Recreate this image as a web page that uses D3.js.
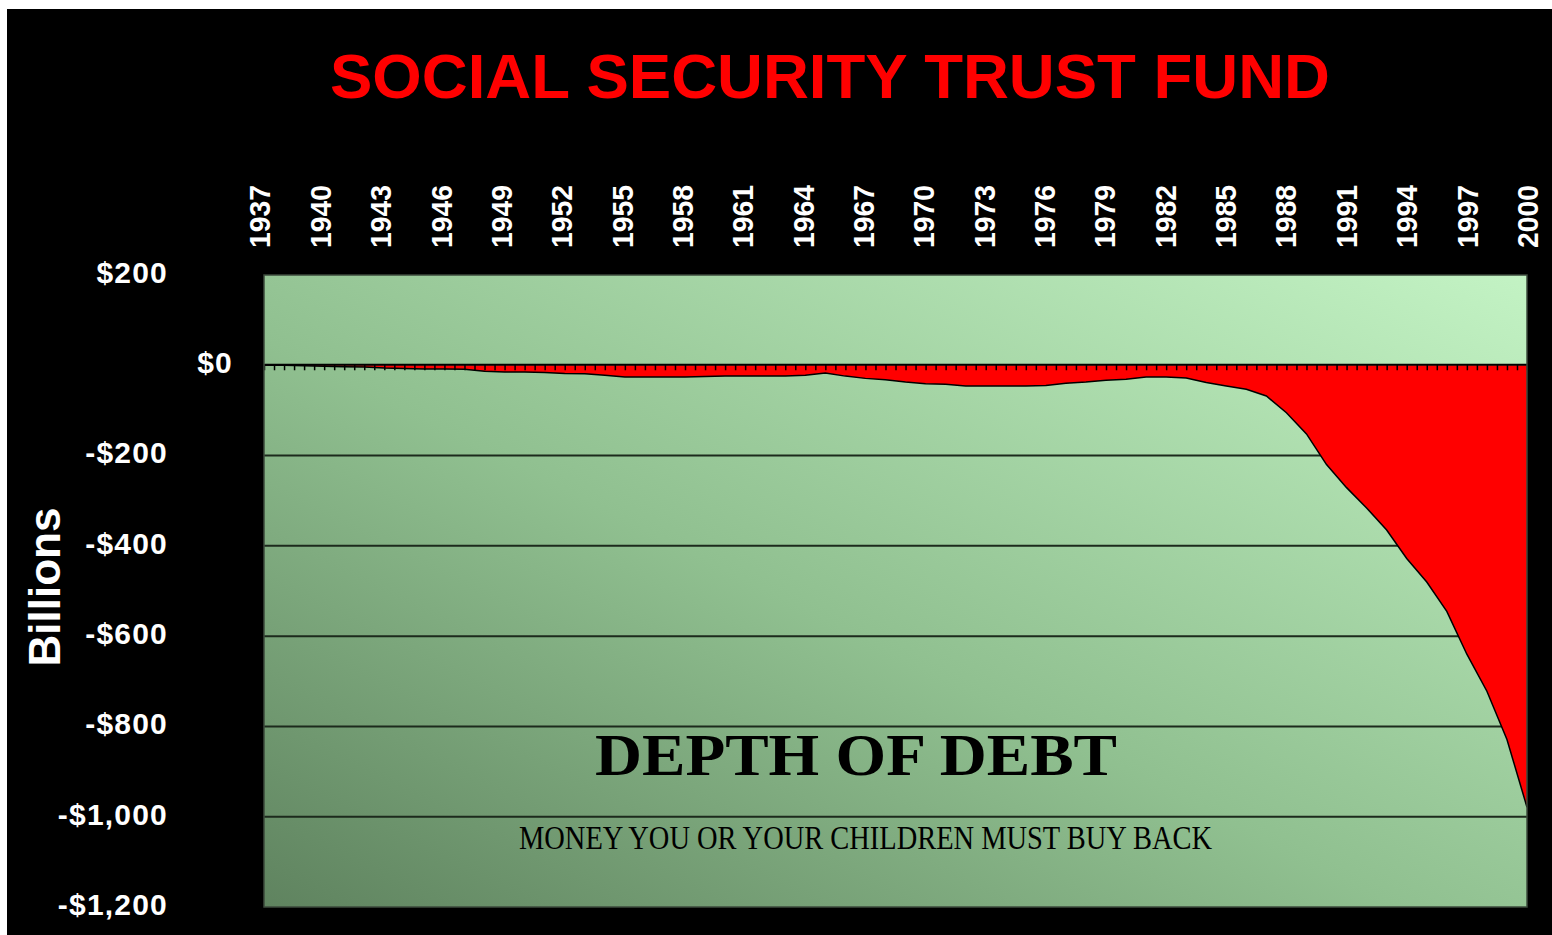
<!DOCTYPE html>
<html>
<head>
<meta charset="utf-8">
<script src="https://cdn.jsdelivr.net/npm/d3@7/dist/d3.min.js"></script>
<style>
    html, body { margin: 0; padding: 0; background: #fff; }
    svg { display: block; }
</style>
</head>
<body>
<svg id="chart" width="1552" height="935"></svg>
<script>
// fund balance, billions (negative = owed)
var years = [1937, 1938, 1939, 1940, 1941, 1942, 1943, 1944, 1945, 1946,
             1947, 1948, 1949, 1950, 1951, 1952, 1953, 1954, 1955, 1956,
             1957, 1958, 1959, 1960, 1961, 1962, 1963, 1964, 1965, 1966,
             1967, 1968, 1969, 1970, 1971, 1972, 1973, 1974, 1975, 1976,
             1977, 1978, 1979, 1980, 1981, 1982, 1983, 1984, 1985, 1986,
             1987, 1988, 1989, 1990, 1991, 1992, 1993, 1994, 1995, 1996,
             1997, 1998, 1999, 2000];
var balance = [0, 0, -1, -2, -3, -4, -6, -7, -8, -8,
               -9, -13, -15, -15, -16, -18, -19, -22, -26, -26,
               -26, -26, -25, -24, -24, -24, -24, -22, -17, -24,
               -29, -32, -37, -41, -42, -46, -46, -46, -46, -45,
               -40, -37, -33, -31, -26, -26, -28, -38, -46, -53,
               -68, -105, -152, -220, -271, -316, -365, -428, -480, -545,
               -640, -722, -829, -979];
var yearLabels = [1937, 1940, 1943, 1946, 1949, 1952, 1955, 1958, 1961, 1964,
                  1967, 1970, 1973, 1976, 1979, 1982, 1985, 1988, 1991, 1994,
                  1997, 2000];
var valueTicks = [200, 0, -200, -400, -600, -800, -1000, -1200];
var gridValues = [-200, -400, -600, -800, -1000];

var data = years.map(function(d, i) { return {year: d, value: balance[i]}; });

var plot = {left: 264, right: 1527, top: 275, bottom: 907};

var svg = d3.select("#chart");

var x = d3.scaleLinear().domain([1937, 2000]).range([plot.left, plot.right]);
var y = d3.scaleLinear().domain([200, -1200]).range([plot.top, plot.bottom]);

var money = function(v) {
    var s = "$" + d3.format(",")(Math.abs(v));
    return v < 0 ? "-" + s : s;
};

// black card
svg.append("rect")
    .attr("x", 7).attr("y", 9)
    .attr("width", 1545).attr("height", 926)
    .attr("fill", "#000");

// green plot background
var defs = svg.append("defs");
var grad = defs.append("linearGradient")
    .attr("id", "bg")
    .attr("x1", 0).attr("y1", 1).attr("x2", 1).attr("y2", 0);
grad.append("stop").attr("offset", "0%").attr("stop-color", "#5f835f");
grad.append("stop").attr("offset", "45%").attr("stop-color", "#90c090");
grad.append("stop").attr("offset", "100%").attr("stop-color", "#c3f3c4");

svg.append("rect")
    .attr("x", plot.left).attr("y", plot.top)
    .attr("width", plot.right - plot.left).attr("height", plot.bottom - plot.top)
    .attr("fill", "url(#bg)");

// gridlines
svg.append("g")
    .attr("class", "grid")
    .selectAll("line").data(gridValues).enter()
    .append("line")
    .attr("x1", plot.left).attr("x2", plot.right)
    .attr("y1", function(d) { return y(d); })
    .attr("y2", function(d) { return y(d); })
    .attr("stroke", "#1c2a1c")
    .attr("stroke-width", 2);

// debt area
var area = d3.area()
    .x(function(d) { return x(d.year); })
    .y0(y(0))
    .y1(function(d) { return y(d.value); });

var edge = d3.line()
    .x(function(d) { return x(d.year); })
    .y(function(d) { return y(d.value); });

svg.append("path")
    .datum(data)
    .attr("d", area)
    .attr("fill", "#ff0000");

svg.append("path")
    .datum(data)
    .attr("d", edge)
    .attr("fill", "none")
    .attr("stroke", "#000")
    .attr("stroke-width", 1.5);

// zero axis with half-year ticks
var zeroAxis = d3.axisBottom(x)
    .tickValues(d3.range(1937, 2000.01, 0.5))
    .tickFormat("")
    .tickSizeInner(6)
    .tickSizeOuter(0);

var gz = svg.append("g")
    .attr("transform", "translate(0," + (y(0) - 1) + ")")
    .call(zeroAxis);
gz.select(".domain").attr("stroke", "#000").attr("stroke-width", 2);
gz.selectAll(".tick line").attr("stroke", "#000").attr("stroke-width", 1.5);

// plot border
svg.append("rect")
    .attr("x", plot.left).attr("y", plot.top)
    .attr("width", plot.right - plot.left).attr("height", plot.bottom - plot.top)
    .attr("fill", "none")
    .attr("stroke", "#3c4a3c")
    .attr("stroke-width", 1.5);

// year labels on top, rotated
svg.append("g")
    .attr("class", "x-labels")
    .selectAll("text").data(yearLabels).enter()
    .append("text")
    .attr("transform", function(d) {
        return "translate(" + (x(d) - 4 + (d - 1937) * 0.07) + ",248) rotate(-90)";
    })
    .attr("dy", "0.36em")
    .attr("text-anchor", "start")
    .attr("fill", "#fff")
    .attr("font-family", "Liberation Sans, Arial, sans-serif")
    .attr("font-weight", "bold")
    .attr("font-size", 29)
    .attr("textLength", 63)
    .attr("lengthAdjust", "spacingAndGlyphs")
    .text(function(d) { return d; });

// value labels on the left
svg.append("g")
    .attr("class", "y-labels")
    .selectAll("text").data(valueTicks).enter()
    .append("text")
    .attr("x", function(d) { return d === 0 ? 233 : 168; })
    .attr("y", function(d) { return y(d) - 2; })
    .attr("dy", "0.33em")
    .attr("text-anchor", "end")
    .attr("fill", "#fff")
    .attr("font-family", "Liberation Sans, Arial, sans-serif")
    .attr("font-weight", "bold")
    .attr("font-size", 30)
    .attr("letter-spacing", 1.2)
    .text(money);

// axis title
svg.append("text")
    .attr("transform", "translate(60,587) rotate(-90)")
    .attr("text-anchor", "middle")
    .attr("fill", "#fff")
    .attr("font-family", "Liberation Sans, Arial, sans-serif")
    .attr("font-weight", "bold")
    .attr("font-size", 44)
    .text("Billions");

// chart title
svg.append("text")
    .attr("x", 330).attr("y", 98)
    .attr("fill", "#ff0000")
    .attr("font-family", "Liberation Sans, Arial, sans-serif")
    .attr("font-weight", "bold")
    .attr("font-size", 63)
    .attr("textLength", 1000)
    .attr("lengthAdjust", "spacingAndGlyphs")
    .text("SOCIAL SECURITY TRUST FUND");

// captions inside the plot
svg.append("text")
    .attr("x", 595).attr("y", 775)
    .attr("fill", "#000")
    .attr("font-family", "Liberation Serif, Times New Roman, serif")
    .attr("font-weight", "bold")
    .attr("font-size", 60)
    .attr("textLength", 522)
    .attr("lengthAdjust", "spacingAndGlyphs")
    .text("DEPTH OF DEBT");

svg.append("text")
    .attr("x", 519).attr("y", 849)
    .attr("fill", "#000")
    .attr("font-family", "Liberation Serif, Times New Roman, serif")
    .attr("font-size", 33)
    .attr("textLength", 693)
    .attr("lengthAdjust", "spacingAndGlyphs")
    .text("MONEY YOU OR YOUR CHILDREN MUST BUY BACK");
</script>
</body>
</html>
